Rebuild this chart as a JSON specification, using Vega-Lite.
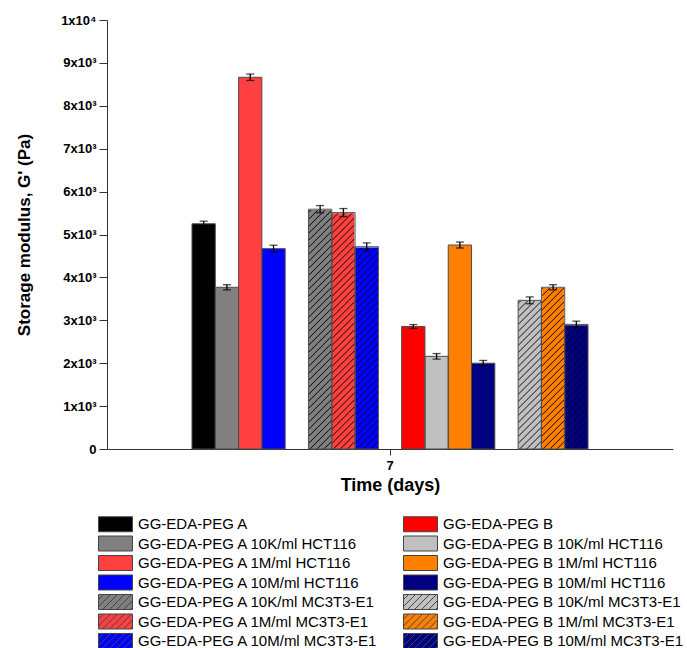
{
  "$schema": "https://vega.github.io/schema/vega-lite/v6.json",
  "autosize": {"type": "none"},
  "width": 566,
  "height": 429,
  "padding": {"left": 107, "top": 20, "right": 14, "bottom": 199},
  "background": "white",
  "config": {"view": {"stroke": null}, "font": "Liberation Sans"},
  "data": {"values": [
    {"day": "7", "series": "GG-EDA-PEG A", "cell": "none", "value": 5250, "lo": 5190, "hi": 5310},
    {"day": "7", "series": "GG-EDA-PEG A 10K/ml HCT116", "cell": "HCT116", "value": 3770, "lo": 3710, "hi": 3830},
    {"day": "7", "series": "GG-EDA-PEG A 1M/ml HCT116", "cell": "HCT116", "value": 8665, "lo": 8590, "hi": 8740},
    {"day": "7", "series": "GG-EDA-PEG A 10M/ml HCT116", "cell": "HCT116", "value": 4670, "lo": 4590, "hi": 4750},
    {"day": "7", "series": "GG-EDA-PEG A 10K/ml MC3T3-E1", "cell": "MC3T3-E1", "value": 5590, "lo": 5505, "hi": 5675},
    {"day": "7", "series": "GG-EDA-PEG A 1M/ml MC3T3-E1", "cell": "MC3T3-E1", "value": 5510, "lo": 5415, "hi": 5605},
    {"day": "7", "series": "GG-EDA-PEG A 10M/ml MC3T3-E1", "cell": "MC3T3-E1", "value": 4715, "lo": 4625, "hi": 4805},
    {"day": "7", "series": "GG-EDA-PEG B", "cell": "none", "value": 2855, "lo": 2810, "hi": 2900},
    {"day": "7", "series": "GG-EDA-PEG B 10K/ml HCT116", "cell": "HCT116", "value": 2160, "lo": 2095, "hi": 2225},
    {"day": "7", "series": "GG-EDA-PEG B 1M/ml HCT116", "cell": "HCT116", "value": 4755, "lo": 4685, "hi": 4825},
    {"day": "7", "series": "GG-EDA-PEG B 10M/ml HCT116", "cell": "HCT116", "value": 2000, "lo": 1935, "hi": 2065},
    {"day": "7", "series": "GG-EDA-PEG B 10K/ml MC3T3-E1", "cell": "MC3T3-E1", "value": 3465, "lo": 3385, "hi": 3545},
    {"day": "7", "series": "GG-EDA-PEG B 1M/ml MC3T3-E1", "cell": "MC3T3-E1", "value": 3770, "lo": 3710, "hi": 3830},
    {"day": "7", "series": "GG-EDA-PEG B 10M/ml MC3T3-E1", "cell": "MC3T3-E1", "value": 2905, "lo": 2830, "hi": 2980}
  ]},
  "encoding": {
    "x": {
      "field": "day", "type": "nominal",
      "scale": {"domain": ["7"], "paddingInner": 0, "paddingOuter": 0.2146},
      "axis": {
        "title": "Time (days)", "labelAngle": 0,
        "labelFont": "Liberation Sans", "labelFontWeight": "bold", "labelFontSize": 13, "labelColor": "#000", "labelPadding": 4,
        "tickSize": 6, "tickColor": "#333", "domainColor": "#333", "grid": false,
        "titleFont": "Liberation Sans", "titleFontWeight": "bold", "titleFontSize": 18, "titleColor": "#000", "titlePadding": 4
      }
    },
    "xOffset": {
      "field": "series", "type": "nominal",
      "scale": {
        "domain": ["GG-EDA-PEG A", "GG-EDA-PEG A 10K/ml HCT116", "GG-EDA-PEG A 1M/ml HCT116", "GG-EDA-PEG A 10M/ml HCT116", "gap1",
                   "GG-EDA-PEG A 10K/ml MC3T3-E1", "GG-EDA-PEG A 1M/ml MC3T3-E1", "GG-EDA-PEG A 10M/ml MC3T3-E1", "gap2",
                   "GG-EDA-PEG B", "GG-EDA-PEG B 10K/ml HCT116", "GG-EDA-PEG B 1M/ml HCT116", "GG-EDA-PEG B 10M/ml HCT116", "gap3",
                   "GG-EDA-PEG B 10K/ml MC3T3-E1", "GG-EDA-PEG B 1M/ml MC3T3-E1", "GG-EDA-PEG B 10M/ml MC3T3-E1"],
        "paddingInner": 0, "paddingOuter": 0
      }
    }
  },
  "layer": [
    {
      "mark": {"type": "bar", "stroke": null},
      "encoding": {
        "y": {
          "field": "value", "type": "quantitative", "stack": null,
          "scale": {"domain": [0, 10000], "nice": false, "zero": true},
          "axis": {
            "title": "Storage modulus, G' (Pa)",
            "values": [0, 500, 1000, 1500, 2000, 2500, 3000, 3500, 4000, 4500, 5000, 5500, 6000, 6500, 7000, 7500, 8000, 8500, 9000, 9500, 10000],
            "labelExpr": "datum.value % 1000 !== 0 ? '' : datum.value === 0 ? '0' : datum.value === 10000 ? '1x10⁴' : (datum.value / 1000) + 'x10³'",
            "tickSize": {"condition": {"test": "datum.value % 1000 !== 0", "value": 4}, "value": 8},
            "labelFont": "Liberation Sans", "labelFontWeight": "bold", "labelFontSize": 13, "labelColor": "#000", "labelPadding": 3,
            "labelOverlap": false, "labelBound": false,
            "tickColor": "#333", "domainColor": "#333", "grid": false,
            "titleFont": "Liberation Sans", "titleFontWeight": "bold", "titleFontSize": 17, "titleColor": "#000", "titlePadding": 27
          }
        },
        "color": {
          "field": "series", "type": "nominal",
          "scale": {
            "domain": ["GG-EDA-PEG A", "GG-EDA-PEG A 10K/ml HCT116", "GG-EDA-PEG A 1M/ml HCT116", "GG-EDA-PEG A 10M/ml HCT116",
                       "GG-EDA-PEG A 10K/ml MC3T3-E1", "GG-EDA-PEG A 1M/ml MC3T3-E1", "GG-EDA-PEG A 10M/ml MC3T3-E1",
                       "GG-EDA-PEG B", "GG-EDA-PEG B 10K/ml HCT116", "GG-EDA-PEG B 1M/ml HCT116", "GG-EDA-PEG B 10M/ml HCT116",
                       "GG-EDA-PEG B 10K/ml MC3T3-E1", "GG-EDA-PEG B 1M/ml MC3T3-E1", "GG-EDA-PEG B 10M/ml MC3T3-E1"],
            "range": ["#000000", "#808080", "#ff4040", "#0000ff", "#808080", "#ff4040", "#0000ff",
                      "#ff0000", "#c0c0c0", "#ff8000", "#000080", "#c0c0c0", "#ff8000", "#000080"]
          },
          "legend": {
            "title": null, "orient": "none", "legendX": -9, "legendY": 496, "columns": 2,
            "symbolType": "M-1,-1H3.533V1H-1Z", "symbolSize": 225,
            "symbolStrokeColor": "#444", "symbolStrokeWidth": 1, "symbolOpacity": 1,
            "labelFont": "Liberation Sans", "labelFontSize": 15, "labelColor": "#000", "labelLimit": 400, "labelOffset": 24,
            "rowPadding": -0.5, "columnPadding": 22, "padding": 0,
            "encode": {"symbols": {"update": {"shape": {"signal": "indexof(datum.value, 'MC3T3') >= 0 ? 'M-1,-1H3.533V1H-1Z M-1,-0.333L-0.333,-1 M-1,0.6L0.6,-1 M-0.467,1L1.533,-1 M0.467,1L2.467,-1 M1.4,1L3.4,-1 M2.333,1L3.533,-0.2 M3.267,1L3.533,0.733' : 'M-1,-1H3.533V1H-1Z'"}}}}
          }
        }
      }
    },
    {
      "transform": [{"filter": "datum.cell === 'MC3T3-E1'"}],
      "mark": {"type": "bar", "stroke": null, "fill": {"gradient": "linear", "x1": 0, "y1": 0, "x2": 0.05888, "y2": 1.0846, "stops": [
        {"offset": 0.395, "color": "#0000"}, {"offset": 0.3975, "color": "#000c"}, {"offset": 0.4, "color": "#0000"},
        {"offset": 0.41, "color": "#0000"}, {"offset": 0.4125, "color": "#000c"}, {"offset": 0.415, "color": "#0000"},
        {"offset": 0.425, "color": "#0000"}, {"offset": 0.4275, "color": "#000c"}, {"offset": 0.43, "color": "#0000"},
        {"offset": 0.44, "color": "#0000"}, {"offset": 0.4425, "color": "#000c"}, {"offset": 0.445, "color": "#0000"},
        {"offset": 0.455, "color": "#0000"}, {"offset": 0.4575, "color": "#000c"}, {"offset": 0.46, "color": "#0000"},
        {"offset": 0.47, "color": "#0000"}, {"offset": 0.4725, "color": "#000c"}, {"offset": 0.475, "color": "#0000"},
        {"offset": 0.485, "color": "#0000"}, {"offset": 0.4875, "color": "#000c"}, {"offset": 0.49, "color": "#0000"},
        {"offset": 0.5, "color": "#0000"}, {"offset": 0.5025, "color": "#000c"}, {"offset": 0.505, "color": "#0000"},
        {"offset": 0.515, "color": "#0000"}, {"offset": 0.5175, "color": "#000c"}, {"offset": 0.52, "color": "#0000"},
        {"offset": 0.53, "color": "#0000"}, {"offset": 0.5325, "color": "#000c"}, {"offset": 0.535, "color": "#0000"},
        {"offset": 0.545, "color": "#0000"}, {"offset": 0.5475, "color": "#000c"}, {"offset": 0.55, "color": "#0000"},
        {"offset": 0.56, "color": "#0000"}, {"offset": 0.5625, "color": "#000c"}, {"offset": 0.565, "color": "#0000"},
        {"offset": 0.575, "color": "#0000"}, {"offset": 0.5775, "color": "#000c"}, {"offset": 0.58, "color": "#0000"},
        {"offset": 0.59, "color": "#0000"}, {"offset": 0.5925, "color": "#000c"}, {"offset": 0.595, "color": "#0000"},
        {"offset": 0.605, "color": "#0000"}, {"offset": 0.6075, "color": "#000c"}, {"offset": 0.61, "color": "#0000"},
        {"offset": 0.62, "color": "#0000"}, {"offset": 0.6225, "color": "#000c"}, {"offset": 0.625, "color": "#0000"},
        {"offset": 0.635, "color": "#0000"}, {"offset": 0.6375, "color": "#000c"}, {"offset": 0.64, "color": "#0000"},
        {"offset": 0.65, "color": "#0000"}, {"offset": 0.6525, "color": "#000c"}, {"offset": 0.655, "color": "#0000"},
        {"offset": 0.665, "color": "#0000"}, {"offset": 0.6675, "color": "#000c"}, {"offset": 0.67, "color": "#0000"},
        {"offset": 0.68, "color": "#0000"}, {"offset": 0.6825, "color": "#000c"}, {"offset": 0.685, "color": "#0000"},
        {"offset": 0.695, "color": "#0000"}, {"offset": 0.6975, "color": "#000c"}, {"offset": 0.7, "color": "#0000"},
        {"offset": 0.71, "color": "#0000"}, {"offset": 0.7125, "color": "#000c"}, {"offset": 0.715, "color": "#0000"},
        {"offset": 0.725, "color": "#0000"}, {"offset": 0.7275, "color": "#000c"}, {"offset": 0.73, "color": "#0000"},
        {"offset": 0.74, "color": "#0000"}, {"offset": 0.7425, "color": "#000c"}, {"offset": 0.745, "color": "#0000"},
        {"offset": 0.755, "color": "#0000"}, {"offset": 0.7575, "color": "#000c"}, {"offset": 0.76, "color": "#0000"},
        {"offset": 0.77, "color": "#0000"}, {"offset": 0.7725, "color": "#000c"}, {"offset": 0.775, "color": "#0000"},
        {"offset": 0.785, "color": "#0000"}, {"offset": 0.7875, "color": "#000c"}, {"offset": 0.79, "color": "#0000"},
        {"offset": 0.8, "color": "#0000"}, {"offset": 0.8025, "color": "#000c"}, {"offset": 0.805, "color": "#0000"},
        {"offset": 0.815, "color": "#0000"}, {"offset": 0.8175, "color": "#000c"}, {"offset": 0.82, "color": "#0000"},
        {"offset": 0.83, "color": "#0000"}, {"offset": 0.8325, "color": "#000c"}, {"offset": 0.835, "color": "#0000"},
        {"offset": 0.845, "color": "#0000"}, {"offset": 0.8475, "color": "#000c"}, {"offset": 0.85, "color": "#0000"},
        {"offset": 0.86, "color": "#0000"}, {"offset": 0.8625, "color": "#000c"}, {"offset": 0.865, "color": "#0000"},
        {"offset": 0.875, "color": "#0000"}, {"offset": 0.8775, "color": "#000c"}, {"offset": 0.88, "color": "#0000"},
        {"offset": 0.89, "color": "#0000"}, {"offset": 0.8925, "color": "#000c"}, {"offset": 0.895, "color": "#0000"},
        {"offset": 0.905, "color": "#0000"}, {"offset": 0.9075, "color": "#000c"}, {"offset": 0.91, "color": "#0000"},
        {"offset": 0.92, "color": "#0000"}, {"offset": 0.9225, "color": "#000c"}, {"offset": 0.925, "color": "#0000"},
        {"offset": 0.935, "color": "#0000"}, {"offset": 0.9375, "color": "#000c"}, {"offset": 0.94, "color": "#0000"},
        {"offset": 0.95, "color": "#0000"}, {"offset": 0.9525, "color": "#000c"}, {"offset": 0.955, "color": "#0000"},
        {"offset": 0.965, "color": "#0000"}, {"offset": 0.9675, "color": "#000c"}, {"offset": 0.97, "color": "#0000"}]}},
      "encoding": {
        "y": {"datum": 0, "type": "quantitative", "title": "Storage modulus, G' (Pa)"},
        "y2": {"datum": 10000}
      }
    },
    {
      "transform": [{"filter": "datum.cell === 'MC3T3-E1'"}],
      "mark": {"type": "bar", "fill": "white", "stroke": "white", "strokeWidth": 1.5},
      "encoding": {
        "y": {"field": "value", "type": "quantitative", "title": "Storage modulus, G' (Pa)"},
        "y2": {"datum": 10000}
      }
    },
    {
      "mark": {"type": "bar", "fillOpacity": 0, "stroke": "#4d4d4d", "strokeWidth": 1},
      "encoding": {
        "y": {"field": "value", "type": "quantitative", "stack": null, "title": "Storage modulus, G' (Pa)"}
      }
    },
    {
      "mark": {"type": "rule", "color": "#000", "strokeWidth": 1.3},
      "encoding": {
        "y": {"field": "lo", "type": "quantitative", "title": "Storage modulus, G' (Pa)"},
        "y2": {"field": "hi"}
      }
    },
    {
      "mark": {"type": "tick", "color": "#000", "size": 8, "thickness": 1.3},
      "encoding": {
        "y": {"field": "hi", "type": "quantitative", "title": "Storage modulus, G' (Pa)"}
      }
    },
    {
      "mark": {"type": "tick", "color": "#000", "size": 8, "thickness": 1.3},
      "encoding": {
        "y": {"field": "lo", "type": "quantitative", "title": "Storage modulus, G' (Pa)"}
      }
    }
  ]
}
